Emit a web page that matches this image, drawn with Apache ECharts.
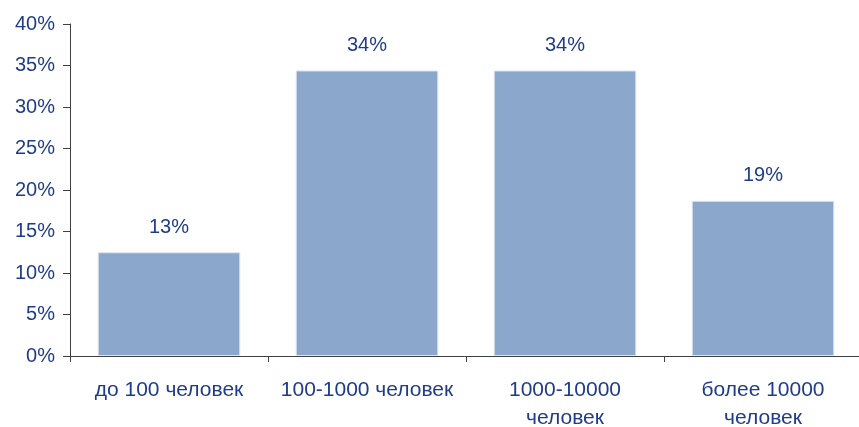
<!DOCTYPE html>
<html>
<head>
<meta charset="utf-8">
<script src="https://cdn.jsdelivr.net/npm/echarts@6/dist/echarts.min.js"></script>
<style>
html,body{margin:0;padding:0;background:#fff;}
#chart{width:859px;height:427px;}
</style>
</head>
<body>
<div id="chart"></div>
<script>
const categories = ["до 100 человек", "100-1000 человек", "1000-10000\nчеловек", "более 10000\nчеловек"];
const values = [12.5, 34.4, 34.4, 18.7];
const yTicks = { min: 0, max: 40, interval: 5 };

const textColor = '#1F3C8C';
const font = 'Liberation Sans, Arial, sans-serif';
const chart = echarts.init(document.getElementById('chart'));
chart.setOption({
  animation: false,
  grid: { left: 70, top: 24, width: 792, height: 332, outerBoundsMode: 'none', containLabel: false },
  xAxis: {
    type: 'category',
    data: categories,
    axisLine: { lineStyle: { color: '#404040', width: 1 } },
    axisTick: { show: true, alignWithLabel: false, length: 6, lineStyle: { color: '#404040' } },
    axisLabel: { color: textColor, fontSize: 21, fontFamily: font, margin: 20, lineHeight: 28, interval: 0 }
  },
  yAxis: {
    type: 'value',
    min: yTicks.min, max: yTicks.max, interval: yTicks.interval,
    axisLine: { show: true, lineStyle: { color: '#404040', width: 1 } },
    axisTick: { show: true, length: 7, lineStyle: { color: '#404040' } },
    splitLine: { show: false },
    axisLabel: { color: textColor, fontSize: 20, fontFamily: font, margin: 15, formatter: '{value}%' }
  },
  series: [{
    type: 'bar',
    data: values,
    barCategoryGap: '28%',
    itemStyle: { color: '#8BA7CC', borderColor: '#DCE5F1', borderWidth: 1 },
    label: {
      show: true, position: 'top', distance: 15,
      color: textColor, fontSize: 20, fontFamily: font,
      formatter: p => Math.round(p.value) + '%'
    }
  }]
});
</script>
</body>
</html>
